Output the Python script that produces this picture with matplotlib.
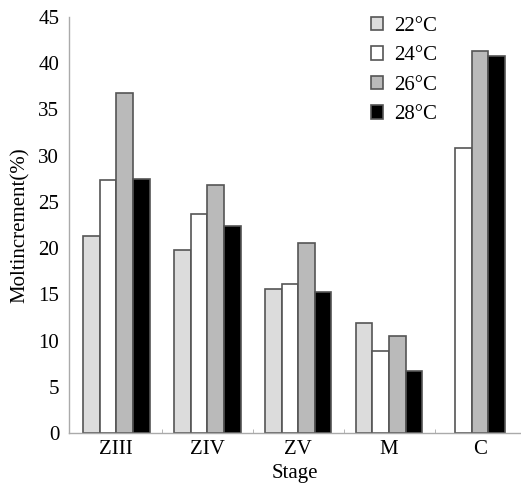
"""Molt increment by stage at four temperatures.
"""

# Global imports
import numpy as np
import matplotlib
matplotlib.use("Agg")
import matplotlib.pyplot as plt

plt.rcParams["font.family"] = ["Liberation Serif", "DejaVu Serif"]

# Data
stages = ["ZIII", "ZIV", "ZV", "M", "C"]
temps = ["22°C", "24°C", "26°C", "28°C"]
t22 = [21.3, 19.8, 15.6, 11.9, np.nan]
t24 = [27.4, 23.7, 16.1, 8.9, 30.8]
t26 = [36.8, 26.8, 20.5, 10.5, 41.3]
t28 = [27.5, 22.4, 15.2, 6.7, 40.8]

series = [t22, t24, t26, t28]
colors = ["#dcdcdc", "#ffffff", "#bababa", "#000000"]
edge = "#555555"
width = 0.183
fs = 15

fig = plt.figure(figsize=(5.21, 4.92), dpi=100)
ax = fig.add_axes([0.1324, 0.12, 0.8676, 0.8455])

x = np.arange(len(stages))
n_present = np.array([np.sum(~np.isnan([s[k] for s in series])) for k in x])
for i, (vals, col, lab) in enumerate(zip(series, colors, temps)):
    vals = np.array(vals, dtype=float)
    # groups with fewer bars are centred on their own position
    idx_in = np.array([
        np.sum(~np.isnan([series[j][k] for j in range(i)])) for k in x
    ])
    offs = (idx_in - (n_present - 1) / 2) * width
    ax.bar(x + offs, np.nan_to_num(vals), width=width, color=col,
           edgecolor=edge, linewidth=1.2, label=lab)

ax.set_xlim(-0.52, 4.45)
ax.set_ylim(0, 45)
ax.set_yticks(range(0, 50, 5))
ax.set_xticks(x)
ax.set_xticklabels(stages)
ax.set_xticks(x[:-1] + 0.5, minor=True)
ax.tick_params(axis="x", which="major", length=0, labelsize=fs, pad=5)
ax.tick_params(axis="x", which="minor", length=3, direction="in",
               color="#aaaaaa")
ax.tick_params(axis="y", length=0, labelsize=fs, pad=7)

for side in ["top", "right"]:
    ax.spines[side].set_visible(False)
for side in ["left", "bottom"]:
    ax.spines[side].set_color("#aaaaaa")
    ax.spines[side].set_linewidth(1.0)

ax.set_xlabel("Stage", fontsize=fs, labelpad=4)
ax.set_ylabel("Moltincrement(%)", fontsize=fs, labelpad=6)

ax.legend(loc="upper right", bbox_to_anchor=(0.855, 1.045), frameon=False,
          fontsize=fs, handlelength=0.6, handleheight=0.6,
          handletextpad=0.5, labelspacing=0.5)

fig.savefig("out.png", dpi=100)
